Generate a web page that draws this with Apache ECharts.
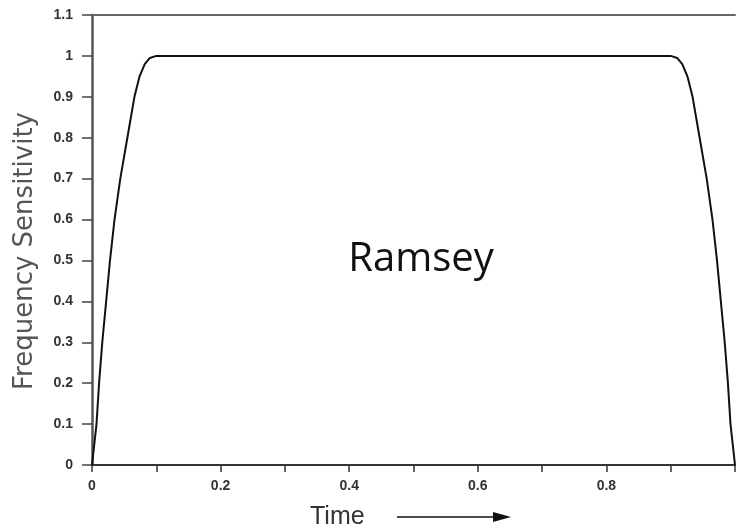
<!DOCTYPE html>
<html>
<head>
<meta charset="utf-8">
<script src="https://cdn.jsdelivr.net/npm/echarts@6/dist/echarts.min.js"></script>
<style>html,body{margin:0;padding:0;background:#fff;}#chart{width:738px;height:528px;}</style>
</head>
<body>
<div id="chart"></div>
<script>
// Data
var timeValues = [0, 0.007, 0.011, 0.016, 0.022, 0.028, 0.035, 0.044, 0.055, 0.066, 0.074, 0.082, 0.09, 0.1,
                  0.9, 0.91, 0.918, 0.926, 0.934, 0.945, 0.956, 0.965, 0.972, 0.978, 0.984, 0.989, 0.993, 1.0];
var sensitivityValues = [0, 0.1, 0.2, 0.3, 0.4, 0.5, 0.6, 0.7, 0.8, 0.9, 0.95, 0.98, 0.995, 1.0,
                         1.0, 0.995, 0.98, 0.95, 0.9, 0.8, 0.7, 0.6, 0.5, 0.4, 0.3, 0.2, 0.1, 0];
var xLabelValues = [0, 0.2, 0.4, 0.6, 0.8];
var xTitle = 'Time';
var yTitle = 'Frequency Sensitivity';
var annotation = 'Ramsey';

var seriesData = timeValues.map(function (t, i) { return [t, sensitivityValues[i]]; });

var chart = echarts.init(document.getElementById('chart'), null, {renderer: 'canvas'});
var tickFont = {fontSize: 14, fontWeight: 'bold', color: '#333', fontFamily: 'Liberation Sans'};
chart.setOption({
  animation: false,
  backgroundColor: '#fff',
  grid: {left: 92, top: 15, bottom: 63, right: -6, containLabel: false},
  xAxis: [{
    type: 'value', min: 0, max: 1, interval: 0.1,
    axisLine: {show: true, lineStyle: {color: '#333', width: 2}},
    axisTick: {show: true, length: 7, lineStyle: {color: '#333', width: 1.5}},
    axisLabel: Object.assign({margin: 14, formatter: function (v) {
      var r = Math.round(v * 10) / 10;
      for (var i = 0; i < xLabelValues.length; i++) {
        if (Math.abs(xLabelValues[i] - r) < 1e-9) return String(r);
      }
      return '';
    }}, tickFont),
    splitLine: {show: false}
  }, {
    type: 'value', position: 'top', min: 0, max: 1,
    axisLine: {show: true, lineStyle: {color: '#666', width: 2}},
    axisTick: {show: false}, axisLabel: {show: false}, splitLine: {show: false}
  }],
  yAxis: {
    type: 'value', min: 0, max: 1.1, interval: 0.1,
    axisLine: {show: true, lineStyle: {color: '#555', width: 2.5}},
    axisTick: {show: true, length: 10, lineStyle: {color: '#444', width: 1.5}},
    axisLabel: Object.assign({margin: 19, formatter: function (v) {
      return String(Math.round(v * 10) / 10);
    }}, tickFont),
    splitLine: {show: false}
  },
  series: [{
    type: 'line', data: seriesData, showSymbol: false, symbol: 'none',
    lineStyle: {color: '#111', width: 2}, clip: false
  }],
  graphic: [
    {type: 'text', x: 25, y: 251, rotation: Math.PI / 2,
      style: {text: yTitle, x: 0, y: 0, textAlign: 'center', textVerticalAlign: 'middle',
        font: '26px "DejaVu Sans"', fill: '#555'}},
    {type: 'text', left: 310, top: 505, style: {text: xTitle, font: '25px "Liberation Sans"', fill: '#333'}},
    {type: 'line', shape: {x1: 397, y1: 517, x2: 496, y2: 517}, style: {stroke: '#111', lineWidth: 1.5}},
    {type: 'polygon', shape: {points: [[493, 512], [511, 517], [493, 522]]}, style: {fill: '#111'}},
    {type: 'text', style: {text: annotation, x: 421, y: 260, textAlign: 'center', textVerticalAlign: 'middle',
      font: '40px "Open Sans"', fill: '#111'}}
  ]
});
</script>
</body>
</html>
